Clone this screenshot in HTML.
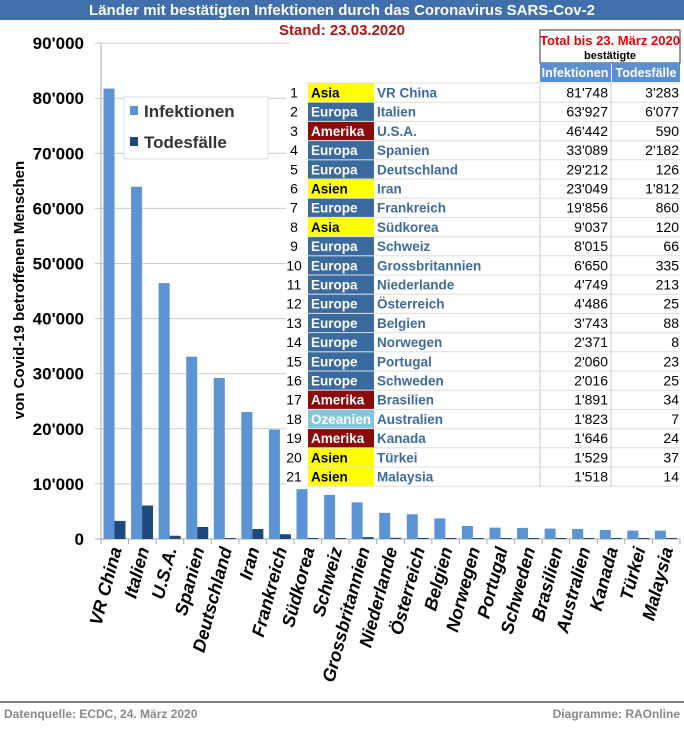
<!DOCTYPE html>
<html><head><meta charset="utf-8"><style>
body{margin:0;background:#fff;width:684px;height:724px;overflow:hidden;font-family:"Liberation Sans",sans-serif}
</style></head><body>
<svg id="s" width="684" height="724" xmlns="http://www.w3.org/2000/svg" font-family="Liberation Sans, sans-serif">
<rect x="0" y="0" width="684" height="20" fill="#3f6fad"/>
<text x="342" y="15" text-anchor="middle" fill="#fff" font-weight="bold" font-size="15">Länder mit bestätigten Infektionen durch das Coronavirus SARS-Cov-2</text>
<text x="342" y="35" text-anchor="middle" fill="#b01515" font-weight="bold" font-size="15">Stand: 23.03.2020</text>
<text transform="translate(24,290) rotate(-90)" text-anchor="middle" font-weight="bold" font-size="15">von Covid-19 betroffenen Menschen</text>
<line x1="0" y1="702" x2="684" y2="702" stroke="#555" stroke-width="1.5"/>
<text x="4" y="718" fill="#888" font-weight="bold" font-size="12">Datenquelle: ECDC, 24. März 2020</text>
<text x="680" y="718" fill="#888" font-weight="bold" font-size="12" text-anchor="end">Diagramme: RAOnline</text>
<g id="g"></g>
</svg>
<script>
(function(){
var inf=[81748,63927,46442,33089,29212,23049,19856,9037,8015,6650,4749,4486,3743,2371,2060,2016,1891,1823,1646,1529,1518];
var dth=[3283,6077,590,2182,126,1812,860,120,66,335,213,25,88,8,23,25,34,7,24,37,14];
var nm=["VR China","Italien","U.S.A.","Spanien","Deutschland","Iran","Frankreich","Südkorea","Schweiz","Grossbritannien","Niederlande","Österreich","Belgien","Norwegen","Portugal","Schweden","Brasilien","Australien","Kanada","Türkei","Malaysia"];
var rg=["Asia","Europa","Amerika","Europa","Europa","Asien","Europe","Asia","Europa","Europa","Europa","Europe","Europe","Europe","Europe","Europe","Amerika","Ozeanien","Amerika","Asien","Asien"];
function f(n){var s=String(n);return s.length>3?s.slice(0,-3)+"'"+s.slice(-3):s;}
var h="";var y0=539,k=55.1/10000,x0=101,sp=27.57;
for(var i=0;i<=9;i++){var y=y0-i*10000*k;
 if(i>0)h+='<line x1="95" y1="'+y+'" x2="290" y2="'+y+'" stroke="#ccc"/>';
 h+='<text x="84" y="'+(y+6)+'" text-anchor="end" font-weight="bold" font-size="17">'+(i==0?"0":i*10+"'000")+'</text>';}
h+='<line x1="'+x0+'" y1="43" x2="'+x0+'" y2="'+y0+'" stroke="#aaa"/>';
h+='<line x1="95" y1="'+y0+'" x2="680" y2="'+y0+'" stroke="#aaa"/>';
for(i=0;i<21;i++){var x=x0+i*sp;
 h+='<line x1="'+x+'" y1="'+y0+'" x2="'+x+'" y2="'+(y0+5)+'" stroke="#aaa"/>';
 var hi=inf[i]*k,hd=Math.max(dth[i]*k,1);
 h+='<rect x="'+(x+2.5)+'" y="'+(y0-hi)+'" width="11" height="'+hi+'" fill="#5b93d3"/>';
 h+='<rect x="'+(x+13.5)+'" y="'+(y0-hd)+'" width="11" height="'+hd+'" fill="#1f497d"/>';
 var cx=x+sp/2+7;
 h+='<text transform="translate('+cx+',549) rotate(-75)" text-anchor="end" font-weight="bold" font-style="italic" font-size="18">'+nm[i]+'</text>';}
h+='<line x1="680" y1="'+y0+'" x2="680" y2="'+(y0+5)+'" stroke="#aaa"/>';
h+='<rect x="124" y="97" width="144" height="62" fill="#fff" stroke="#ddd"/>';
h+='<rect x="130" y="106" width="8" height="9" fill="#5b93d3"/><text x="144" y="117" font-size="17" font-weight="bold" fill="#333">Infektionen</text>';
h+='<rect x="130" y="137" width="8" height="9" fill="#1f497d"/><text x="144" y="148" font-size="17" font-weight="bold" fill="#333">Todesfälle</text>';
h+='<rect x="286" y="63" width="394" height="425" fill="#fff"/>';
h+='<rect x="540" y="30" width="140" height="33" fill="#fff" stroke="#333"/>';
h+='<text x="610" y="45" text-anchor="middle" fill="#e00" font-weight="bold" font-size="13">Total bis 23. März 2020</text>';
h+='<text x="610" y="59" text-anchor="middle" font-weight="bold" font-size="11">bestätigte</text>';
h+='<rect x="540" y="63" width="71" height="19" fill="#5b8fd0"/><rect x="612" y="63" width="68" height="19" fill="#5b8fd0"/>';
h+='<text x="575" y="77" text-anchor="middle" fill="#fff" font-weight="bold" font-size="12.5">Infektionen</text>';
h+='<text x="646" y="77" text-anchor="middle" fill="#fff" font-weight="bold" font-size="12.5">Todesfälle</text>';
var rh=19.2,t0=83;
for(i=0;i<21;i++){var ry=t0+i*rh,ty=ry+14.5;var r=rg[i];
 var bg=r.indexOf("Asi")==0?"#ffff00":r=="Amerika"?"#8b0a0a":r=="Ozeanien"?"#86c6dc":"#3a6a9e";
 var fc=bg=="#ffff00"?"#000":"#fff";
 h+='<line x1="306" y1="'+(ry+rh)+'" x2="680" y2="'+(ry+rh)+'" stroke="#ddd"/>';
 h+='<rect x="308" y="'+(ry+0.5)+'" width="66" height="'+(rh-1)+'" fill="'+bg+'"/>';
 h+='<text x="294" y="'+ty+'" text-anchor="middle" font-size="14">'+(i+1)+'</text>';
 h+='<text x="311" y="'+ty+'" fill="'+fc+'" font-weight="bold" font-size="13.5">'+r+'</text>';
 h+='<text x="377" y="'+ty+'" fill="#3e6b9e" font-weight="bold" font-size="13.5">'+nm[i]+'</text>';
 h+='<text x="608" y="'+ty+'" text-anchor="end" font-size="14">'+f(inf[i])+'</text>';
 h+='<text x="679" y="'+ty+'" text-anchor="end" font-size="14">'+f(dth[i])+'</text>';}
h+='<line x1="540" y1="82" x2="540" y2="487" stroke="#ccc"/><line x1="611" y1="82" x2="611" y2="487" stroke="#ccc"/>';
h+='<line x1="306" y1="83" x2="680" y2="83" stroke="#ddd"/>';
document.getElementById("g").innerHTML=h;
})();
</script>
</body></html>
